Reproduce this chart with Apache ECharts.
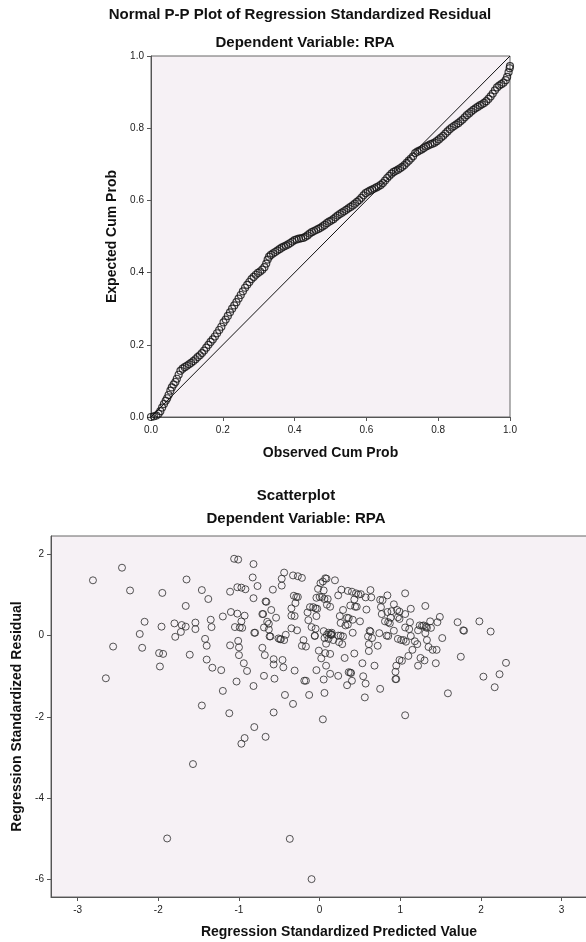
<!DOCTYPE html>
<html>
<head>
<meta charset="utf-8">
<title>Regression residual plots</title>
<script src="https://cdn.jsdelivr.net/npm/echarts@6.0.0/dist/echarts.min.js"></script>
<style>
  html, body { margin: 0; padding: 0; background: #ffffff; }
  #chart { width: 586px; height: 942px; }
</style>
</head>
<body>
<div id="chart"></div>
<script>
// P-P plot: observed vs expected cumulative probability
var ppObserved = [0.000, 0.008, 0.015, 0.021, 0.026, 0.031, 0.036, 0.041, 0.045, 0.049, 0.054, 0.058, 0.063, 0.068, 0.072, 0.077, 0.082, 0.088, 0.094, 0.100,
  0.106, 0.112, 0.118, 0.124, 0.130, 0.136, 0.142, 0.148, 0.154, 0.160, 0.166, 0.172, 0.178, 0.184, 0.190, 0.196, 0.202, 0.208, 0.214, 0.220,
  0.226, 0.232, 0.238, 0.244, 0.250, 0.256, 0.262, 0.268, 0.274, 0.280, 0.286, 0.292, 0.298, 0.304, 0.310, 0.316, 0.321, 0.325, 0.329, 0.334,
  0.340, 0.346, 0.352, 0.358, 0.364, 0.370, 0.376, 0.382, 0.388, 0.394, 0.400, 0.406, 0.412, 0.418, 0.424, 0.430, 0.436, 0.442, 0.448, 0.454,
  0.460, 0.466, 0.472, 0.478, 0.484, 0.490, 0.496, 0.502, 0.508, 0.514, 0.520, 0.526, 0.532, 0.538, 0.544, 0.550, 0.556, 0.562, 0.568, 0.574,
  0.580, 0.586, 0.592, 0.598, 0.604, 0.610, 0.616, 0.622, 0.628, 0.634, 0.640, 0.646, 0.652, 0.658, 0.664, 0.670, 0.676, 0.682, 0.688, 0.694,
  0.700, 0.706, 0.712, 0.718, 0.724, 0.730, 0.736, 0.742, 0.748, 0.754, 0.760, 0.766, 0.772, 0.778, 0.784, 0.790, 0.796, 0.802, 0.808, 0.814,
  0.820, 0.826, 0.832, 0.838, 0.844, 0.850, 0.856, 0.862, 0.868, 0.874, 0.880, 0.886, 0.892, 0.898, 0.904, 0.910, 0.916, 0.922, 0.928, 0.934,
  0.940, 0.946, 0.952, 0.958, 0.964, 0.970, 0.976, 0.982, 0.988, 0.992, 0.996, 0.999, 1.000];
var ppExpected = [0.000, 0.002, 0.004, 0.009, 0.016, 0.026, 0.036, 0.045, 0.052, 0.061, 0.073, 0.082, 0.090, 0.097, 0.106, 0.117, 0.128, 0.134, 0.138, 0.142,
  0.146, 0.150, 0.155, 0.160, 0.166, 0.171, 0.177, 0.184, 0.192, 0.200, 0.208, 0.215, 0.223, 0.232, 0.241, 0.250, 0.262, 0.270, 0.280, 0.290,
  0.300, 0.309, 0.318, 0.328, 0.338, 0.348, 0.358, 0.366, 0.374, 0.382, 0.388, 0.394, 0.399, 0.403, 0.408, 0.415, 0.425, 0.436, 0.444, 0.449,
  0.453, 0.457, 0.461, 0.465, 0.469, 0.472, 0.475, 0.478, 0.482, 0.486, 0.490, 0.492, 0.494, 0.495, 0.496, 0.499, 0.503, 0.508, 0.512, 0.515,
  0.518, 0.521, 0.524, 0.528, 0.532, 0.537, 0.541, 0.544, 0.548, 0.553, 0.558, 0.562, 0.566, 0.570, 0.574, 0.578, 0.582, 0.586, 0.591, 0.596,
  0.601, 0.607, 0.614, 0.620, 0.624, 0.627, 0.630, 0.633, 0.636, 0.639, 0.643, 0.648, 0.655, 0.662, 0.668, 0.674, 0.679, 0.682, 0.685, 0.689,
  0.693, 0.698, 0.704, 0.710, 0.716, 0.722, 0.731, 0.735, 0.738, 0.741, 0.745, 0.749, 0.752, 0.755, 0.757, 0.760, 0.764, 0.769, 0.774, 0.779,
  0.785, 0.791, 0.797, 0.802, 0.806, 0.810, 0.814, 0.819, 0.824, 0.830, 0.836, 0.841, 0.846, 0.851, 0.855, 0.859, 0.863, 0.866, 0.870, 0.875,
  0.881, 0.888, 0.896, 0.905, 0.913, 0.918, 0.922, 0.926, 0.933, 0.942, 0.955, 0.966, 0.972];
var refLine = [[0, 0], [1, 1]];

// scatterplot: standardized predicted value vs standardized residual
var predicted = [-2.81, -2.45, -2.35, -2.65, -2.56, -2.23, -2.20, -2.17, -1.95, -1.96, -1.99, -1.94, -1.98, -1.89, -1.80, -1.79, -1.72, -1.71, -1.66, -1.66,
  -1.65, -1.61, -1.57, -1.54, -1.54, -1.46, -1.46, -1.42, -1.40, -1.40, -1.38, -1.35, -1.34, -1.33, -1.22, -1.20, -1.20, -1.12, -1.11, -1.11,
  -1.10, -1.06, -1.01, -1.05, -1.02, -1.03, -1.02, -1.01, -1.00, -1.00, -0.99, -0.97, -0.97, -0.96, -0.97, -0.93, -0.94, -0.93, -0.92, -0.90,
  -0.83, -0.82, -0.82, -0.82, -0.81, -0.80, -0.81, -0.77, -0.71, -0.70, -0.71, -0.69, -0.68, -0.69, -0.67, -0.66, -0.67, -0.65, -0.63, -0.63,
  -0.62, -0.61, -0.60, -0.58, -0.57, -0.57, -0.57, -0.56, -0.54, -0.51, -0.49, -0.48, -0.47, -0.47, -0.46, -0.45, -0.44, -0.44, -0.43, -0.42,
  -0.37, -0.35, -0.35, -0.35, -0.33, -0.33, -0.32, -0.31, -0.31, -0.30, -0.29, -0.28, -0.27, -0.27, -0.22, -0.22, -0.20, -0.19, -0.17, -0.17,
  -0.15, -0.14, -0.13, -0.12, -0.10, -0.10, -0.08, -0.06, -0.06, -0.05, -0.05, -0.04, -0.04, -0.04, -0.03, -0.02, -0.01, 0.00, 0.01, 0.02,
  0.03, 0.04, 0.04, 0.05, 0.05, 0.05, 0.06, 0.06, 0.06, 0.07, 0.07, 0.08, 0.08, 0.085, 0.09, 0.09, 0.10, 0.11, 0.11, 0.13,
  0.13, 0.13, 0.14, 0.14, 0.15, 0.15, 0.17, 0.19, 0.23, 0.23, 0.23, 0.24, 0.25, 0.26, 0.26, 0.27, 0.28, 0.29, 0.29, 0.31,
  0.32, 0.34, 0.34, 0.35, 0.35, 0.36, 0.36, 0.38, 0.38, 0.39, 0.40, 0.40, 0.41, 0.41, 0.43, 0.43, 0.44, 0.45, 0.46, 0.48,
  0.50, 0.51, 0.53, 0.54, 0.56, 0.57, 0.57, 0.58, 0.60, 0.61, 0.61, 0.62, 0.63, 0.63, 0.64, 0.65, 0.68, 0.72, 0.74, 0.75,
  0.75, 0.76, 0.77, 0.78, 0.81, 0.83, 0.84, 0.84, 0.85, 0.85, 0.87, 0.88, 0.89, 0.92, 0.92, 0.94, 0.94, 0.95, 0.95, 0.96,
  0.97, 0.97, 0.99, 0.99, 0.99, 1.01, 1.02, 1.04, 1.06, 1.06, 1.06, 1.06, 1.07, 1.10, 1.11, 1.12, 1.13, 1.13, 1.15, 1.18,
  1.21, 1.22, 1.22, 1.24, 1.25, 1.27, 1.29, 1.30, 1.31, 1.31, 1.32, 1.33, 1.33, 1.35, 1.37, 1.38, 1.40, 1.44, 1.45, 1.46,
  1.49, 1.52, 1.59, 1.71, 1.75, 1.78, 1.79, 1.98, 2.03, 2.12, 2.17, 2.23, 2.31];
var residual = [1.36, 1.67, 1.11, -1.05, -0.27, 0.04, -0.30, 0.34, 1.05, 0.22, -0.43, -0.45, -0.76, -4.99, 0.30, -0.03, 0.09, 0.26, 0.22, 0.73,
  1.38, -0.47, -3.16, 0.32, 0.16, 1.12, -1.72, -0.08, -0.25, -0.59, 0.90, 0.39, 0.21, -0.79, -0.85, -1.36, 0.47, -1.91, 1.08, -0.24,
  0.58, 1.89, 1.87, 0.21, 0.54, -1.13, 1.19, -0.13, -0.29, -0.48, 0.20, 1.18, 0.35, 0.19, -2.66, 0.49, -0.68, -2.52, 1.14, -0.87,
  1.43, 1.76, 0.92, -1.24, 0.07, 0.07, -2.25, 1.22, 0.53, 0.53, -0.30, -0.99, -0.48, 0.20, 0.84, 0.83, -2.49, 0.34, 0.29, 0.15,
  -0.02, -0.02, 0.63, 1.13, -0.58, -1.89, -0.71, -1.06, 0.44, -0.07, -0.09, -0.09, 1.23, 1.40, -0.60, -0.78, 1.55, -0.11, -1.46, 0.02,
  -5.00, 0.67, 0.49, 0.18, 1.48, -1.68, 0.98, -0.86, 0.48, 0.80, 0.95, 0.13, 1.46, 0.95, 1.42, -0.25, -0.11, -1.11, -1.11, -0.27,
  0.57, 0.38, -1.46, 0.70, -5.99, 0.21, 0.70, 0.00, -0.01, 0.17, 0.67, -0.85, 0.48, 0.93, 0.66, 1.15, -0.37, 0.95, 1.29, -0.56,
  0.95, 1.33, -2.06, 1.11, 0.11, -1.08, -0.06, 0.90, -1.41, -0.43, 1.41, -0.74, -0.20, 1.40, 0.76, 0.02, 0.90, 0.07, -0.08, -0.94,
  -0.45, 0.71, 0.04, 0.02, 0.07, 0.02, -0.11, 1.36, 0.99, 0.00, -0.99, -0.16, 0.48, 0.00, 0.31, 1.13, -0.21, 0.63, -0.02, -0.55,
  0.25, -1.22, 0.44, 1.10, 0.27, -0.90, 0.43, -0.91, 0.74, -0.92, 1.08, -1.11, 0.39, 0.07, -0.44, 0.89, 0.71, 1.04, 0.71, 1.01,
  0.35, 1.02, -0.68, -1.00, -1.52, -1.18, 0.94, 0.64, -0.02, -0.38, -0.21, 0.12, 0.10, 1.12, 0.94, -0.06, -0.74, -0.25, 0.06, -1.31,
  0.88, 0.70, 0.53, 0.87, 0.35, 0.00, 0.58, 0.99, 0.33, -0.01, 0.30, 0.44, 0.60, 0.12, 0.77, -1.07, -0.89, -1.07, -0.74, 0.63,
  -0.08, 0.45, 0.41, 0.59, -0.60, -0.11, -0.62, -0.11, -1.96, 1.04, 0.53, 0.20, -0.15, -0.50, 0.16, 0.33, -0.01, 0.66, -0.35, -0.14,
  -0.21, -0.74, 0.13, 0.25, -0.55, 0.24, 0.25, -0.61, 0.06, 0.73, 0.22, 0.19, -0.11, -0.28, 0.35, 0.19, -0.35, -0.68, -0.35, 0.33,
  0.46, -0.06, -1.42, 0.33, -0.52, 0.13, 0.12, 0.35, -1.01, 0.10, -1.27, -0.95, -0.67];
var xTicks = [-3, -2, -1, 0, 1, 2, 3];
var yTicks = [2, 0, -2, -4, -6];

function zip(a, b) {
  var out = [];
  for (var i = 0; i < a.length; i++) {
    out.push([a[i], b[i]]);
  }
  return out;
}

var FONT = "'Liberation Sans', Arial, sans-serif";
var PLOT_BG = '#F6F1F5';
var AXIS_COLOR = '#555555';

function axisBase(extra) {
  var a = {
    type: 'value',
    nameLocation: 'middle',
    nameTextStyle: { fontFamily: FONT, fontWeight: 'bold', fontSize: 14, color: '#111' },
    axisLine: { show: true, onZero: false, lineStyle: { color: AXIS_COLOR, width: 1 } },
    axisTick: { show: true, inside: false, length: 4, lineStyle: { color: AXIS_COLOR } },
    axisLabel: { fontFamily: FONT, fontSize: 10, color: '#222', margin: 7 },
    splitLine: { show: false }
  };
  for (var k in extra) {
    a[k] = extra[k];
  }
  return a;
}

function titleText(text, x, y) {
  return {
    type: 'text',
    x: x,
    y: y,
    style: {
      text: text,
      fill: '#111',
      font: 'bold 15px ' + FONT,
      textAlign: 'center',
      textVerticalAlign: 'middle'
    }
  };
}

var chart = echarts.init(document.getElementById('chart'), null, { renderer: 'canvas' });

var option = {
  backgroundColor: '#ffffff',
  animation: false,
  graphic: [
    titleText('Normal P-P Plot of Regression Standardized Residual', 300, 15),
    titleText('Dependent Variable: RPA', 305, 43),
    titleText('Scatterplot', 296, 496),
    titleText('Dependent Variable: RPA', 296, 519)
  ],
  grid: [
    { left: 151, top: 56, width: 359, height: 361, outerBoundsMode: 'none',
      show: true, backgroundColor: PLOT_BG, borderColor: '#666', borderWidth: 1 },
    // the scatterplot runs past the right edge of the picture
    { left: 51, top: 536, width: 576, height: 361, outerBoundsMode: 'none',
      show: true, backgroundColor: PLOT_BG, borderColor: '#666', borderWidth: 1 }
  ],
  xAxis: [
    axisBase({
      gridIndex: 0, min: 0, max: 1, interval: 0.2,
      name: 'Observed Cum Prob', nameGap: 29,
      axisLabel: { fontFamily: FONT, fontSize: 10, color: '#222', margin: 8,
        formatter: function (v) { return v.toFixed(1); } }
    }),
    axisBase({
      gridIndex: 1, min: -3.33, max: 3.81,
      name: 'Regression Standardized Predicted Value', nameGap: 28,
      axisLabel: { fontFamily: FONT, fontSize: 10, color: '#222', margin: 8, customValues: xTicks },
      axisTick: { show: true, length: 4, lineStyle: { color: AXIS_COLOR }, customValues: xTicks }
    })
  ],
  yAxis: [
    axisBase({
      gridIndex: 0, min: 0, max: 1, interval: 0.2,
      name: 'Expected Cum Prob', nameGap: 31,
      axisLabel: { fontFamily: FONT, fontSize: 10, color: '#222', margin: 7,
        formatter: function (v) { return v.toFixed(1); } }
    }),
    axisBase({
      gridIndex: 1, min: -6.43, max: 2.45,
      name: 'Regression Standardized Residual', nameGap: 26,
      axisLabel: { fontFamily: FONT, fontSize: 10, color: '#222', margin: 7, customValues: yTicks },
      axisTick: { show: true, length: 4, lineStyle: { color: AXIS_COLOR }, customValues: yTicks }
    })
  ],
  series: [
    {
      type: 'line',
      xAxisIndex: 0, yAxisIndex: 0,
      data: refLine,
      symbol: 'none',
      silent: true,
      lineStyle: { color: '#111', width: 1 }
    },
    {
      type: 'scatter',
      xAxisIndex: 0, yAxisIndex: 0,
      data: zip(ppObserved, ppExpected),
      symbol: 'circle',
      symbolSize: 7,
      itemStyle: { color: 'rgba(0,0,0,0)', borderColor: '#111', borderWidth: 1.2 }
    },
    {
      type: 'scatter',
      xAxisIndex: 1, yAxisIndex: 1,
      data: zip(predicted, residual),
      symbol: 'circle',
      symbolSize: 7,
      itemStyle: { color: 'rgba(0,0,0,0)', borderColor: '#2a2a2a', borderWidth: 1 }
    }
  ]
};

chart.setOption(option);
</script>
</body>
</html>
